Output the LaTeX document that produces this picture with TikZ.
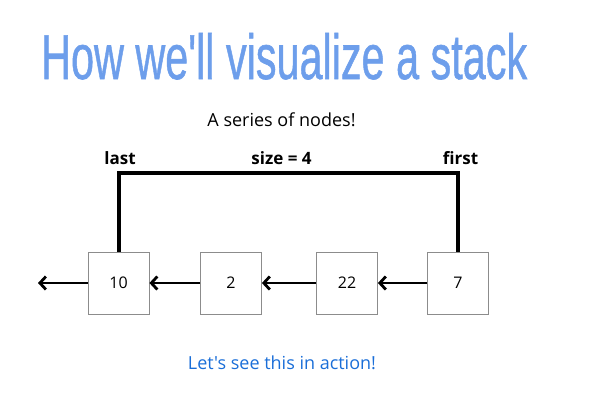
\documentclass[tikz,border=0pt]{standalone}
\usepackage{graphicx}
\usepackage{fontspec}
\setmainfont{Open Sans}[Ligatures=TeXOff]
\newfontfamily\titlefont{Liberation Sans}[Ligatures=TeXOff,FakeBold=1]
\usetikzlibrary{arrows.meta}
\definecolor{titleblue}{HTML}{6D9EEB}
\definecolor{linkblue}{HTML}{1A6ED8}
\begin{document}
\begin{tikzpicture}[x=1pt,y=-1pt,
 cell/.style={draw=black!45, line width=0.8pt, minimum width=61pt, minimum height=62pt, inner sep=0pt, font=\fontsize{16}{19}\selectfont},
 ptr/.style={line width=2.8pt, -{Straight Barb[length=6pt,width=13pt]}},
 lbl/.style={font=\bfseries\fontsize{17}{20}\selectfont, inner sep=0pt, anchor=base},
 wire/.style={line width=4pt},
 plain/.style={font=\fontsize{18}{22}\selectfont, inner sep=0pt}]
\useasboundingbox (0,0) rectangle (601,407);
\node[anchor=base west, inner sep=0pt, text=titleblue] (title) at (41,79) {\resizebox{486pt}{46pt}{\titlefont How we'll visualize a stack}};
\node[plain] (sub) at (281.5,120) {A series of nodes!};
\node[lbl] (last) at (120,164) {last};
\node[lbl] (size) at (281.5,164) {size = 4};
\node[lbl] (first) at (460.5,164) {first};
\node[cell] (n10) at (118.5,283) {10};
\node[cell] (n2) at (231,283) {2};
\node[cell] (n22) at (347,283) {22};
\node[cell] (n7) at (458,283) {7};
\coordinate (top) at (0,173);
\coordinate (end) at (38,283);
\draw[wire] (n10.north) -- (n10.north |- top) -- (n7.north |- top) -- (n7.north);
\draw[ptr] (n10.west) -- (end);
\draw[ptr] (n2.west) -- (n10.east);
\draw[ptr] (n22.west) -- (n2.east);
\draw[ptr] (n7.west) -- (n22.east);
\node[plain, text=linkblue] (cta) at (282,363) {Let's see this in action!};
\end{tikzpicture}
\end{document}
